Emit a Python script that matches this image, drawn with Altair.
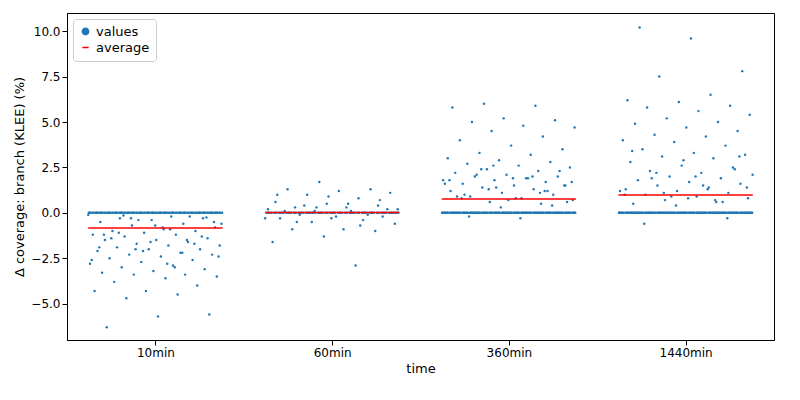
import altair as alt
import pandas as pd

groups = ["10min", "60min", "360min", "1440min"]

# non-zero values, per group, plus the count of points sitting at ~0
nonzero_10 = [-0.1, -0.2, -0.3, -0.3, -0.4, -0.5, -0.6, -0.7, -0.8, -0.9, -1.0, -1.0, -1.1,
              -1.2, -1.2, -1.3, -1.4, -1.5, -1.5, -1.6, -1.7, -1.8, -1.8, -1.9, -2.0, -2.0,
              -2.1, -2.2, -2.3, -2.3, -2.4, -2.5, -2.6, -2.7, -2.8, -2.9, -3.0, -3.1, -3.2,
              -3.3, -3.4, -3.4, -3.5, -3.6, -3.8, -4.0, -4.3, -4.3, -4.5, -4.7, -5.6, -5.7,
              -6.3, -0.2, -0.4, -0.6, -0.9, -1.1, -1.3, -1.6, -1.9, -2.2, -0.3, -0.5, -0.8,
              -1.4, -1.7, -2.1, -2.6, -3.0, -0.15, -0.25, -0.7, -1.2, -1.5, -2.0, -2.4, -2.8]
zeros_10 = 110

nonzero_60 = [0.1, 0.2, 0.3, 0.3, 0.4, 0.5, 0.6, 0.8, 1.0, 1.1, 1.2, 1.3, 1.3, 1.7, 0.2, 0.1,
              -0.1, -0.2, -0.3, -0.3, -0.4, -0.5, -0.6, -0.9, -0.9, -1.0, -1.3, -1.6, -2.9,
              0.4, 0.2, -0.2, 0.1, -0.1, 0.3, -0.3, 0.5, -0.5, 0.7, 0.9, 1.0, -0.7]
zeros_60 = 70

nonzero_360 = [0.5, 0.6, 0.7, 0.8, 0.9, 1.0, 1.1, 1.2, 1.3, 1.4, 1.5, 1.5, 1.6, 1.7, 1.8, 1.8,
               1.9, 2.0, 2.0, 2.1, 2.2, 2.3, 2.4, 2.5, 2.6, 2.7, 2.8, 2.9, 3.0, 3.2, 3.3, 3.5,
               3.7, 4.0, 4.2, 4.5, 4.7, 4.8, 5.0, 5.1, 5.2, 5.8, 5.9, 6.0, 0.6, 0.8, 1.0, 1.2,
               1.4, 1.6, 1.9, 2.1, 2.3, 0.7, 0.9, 1.1, 1.3, 1.7, -0.3, -0.2, 0.4, 0.3,
               1.8, 2.0, 2.4, 1.5, 1.9, 0.8, 1.2, 2.6]
zeros_360 = 130

nonzero_1440 = [0.5, 0.6, 0.7, 0.8, 0.9, 1.0, 1.1, 1.2, 1.3, 1.4, 1.5, 1.6, 1.7, 1.8, 1.9, 2.0,
                2.1, 2.2, 2.3, 2.5, 2.6, 2.8, 3.0, 3.1, 3.2, 3.3, 3.5, 3.7, 3.9, 4.0, 4.2, 4.3,
                4.5, 4.7, 4.9, 5.0, 5.2, 5.4, 5.6, 5.8, 5.9, 6.1, 6.2, 6.5, 7.5, 7.8, 9.6, 10.2,
                0.6, 0.9, 1.2, 1.5, 1.9, 2.4, 2.9, 3.4, 0.7, 1.1, 1.4, 2.0, -0.6, -0.3, 0.4,
                1.0, 1.3, 2.2, 3.1, 0.8]
zeros_1440 = 135

group_values = [
    nonzero_10 + [0.0] * zeros_10,
    nonzero_60 + [0.0] * zeros_60,
    nonzero_360 + [0.0] * zeros_360,
    nonzero_1440 + [0.0] * zeros_1440,
]

rows = []
for gi, vals in enumerate(group_values):
    for k, v in enumerate(vals):
        # deterministic jitter spread across the strip
        off = (((k * 0.6180339887 + gi * 0.37) % 1.0) - 0.5) * 0.76
        rows.append({"x": gi + off, "value": v, "kind": "values"})
points = pd.DataFrame(rows)

avg = pd.DataFrame({
    "x": [i - 0.38 for i in range(4)],
    "x2": [i + 0.38 for i in range(4)],
    "mean": [sum(v) / len(v) for v in group_values],
    "kind": ["average"] * 4,
})

label_expr = "['10min','60min','360min','1440min'][datum.value]"

color = alt.Color("kind:N", scale=alt.Scale(domain=["values", "average"], range=["#1f77b4", "red"]),
                  legend=alt.Legend(title=None, orient="top-left", symbolStrokeWidth=1.5,
                                    symbolSize=40, labelFontSize=13, strokeColor="#ccc",
                                    padding=6, fillColor="white", cornerRadius=3, offset=6))
shape = alt.Shape("kind:N", scale=alt.Scale(domain=["values", "average"], range=["circle", "stroke"]),
                  legend=None)

xenc = alt.X("x:Q", scale=alt.Scale(domain=[-0.5, 3.5], nice=False),
             axis=alt.Axis(values=[0, 1, 2, 3], labelExpr=label_expr, grid=False,
                           title="time", titleFontWeight="normal", titleFontSize=13,
                           labelFontSize=12))

dots = alt.Chart(points).mark_point(filled=True, size=6, opacity=1).encode(
    x=xenc,
    y=alt.Y("value:Q", scale=alt.Scale(domain=[-7, 11], nice=False),
            axis=alt.Axis(values=[-5, -2.5, 0, 2.5, 5, 7.5, 10], format=".1f", grid=False,
                          title="Δ coverage: branch (KLEE) (%)", titleFontWeight="normal",
                          titleFontSize=13, labelFontSize=12)),
    color=color,
    shape=shape,
)

lines = alt.Chart(avg).mark_rule(strokeWidth=1.5).encode(
    x="x:Q", x2="x2:Q", y="mean:Q", color=color, shape=shape,
)

chart = (dots + lines).properties(
    width=707, height=327
).configure_view(stroke="black").configure_axis(
    domainColor="black", tickColor="black", labelColor="black", titleColor="black",
    labelFont="DejaVu Sans", titleFont="DejaVu Sans"
).configure_legend(labelFont="DejaVu Sans")

chart.save("out.html", embed_options={"renderer": "svg", "actions": False})
